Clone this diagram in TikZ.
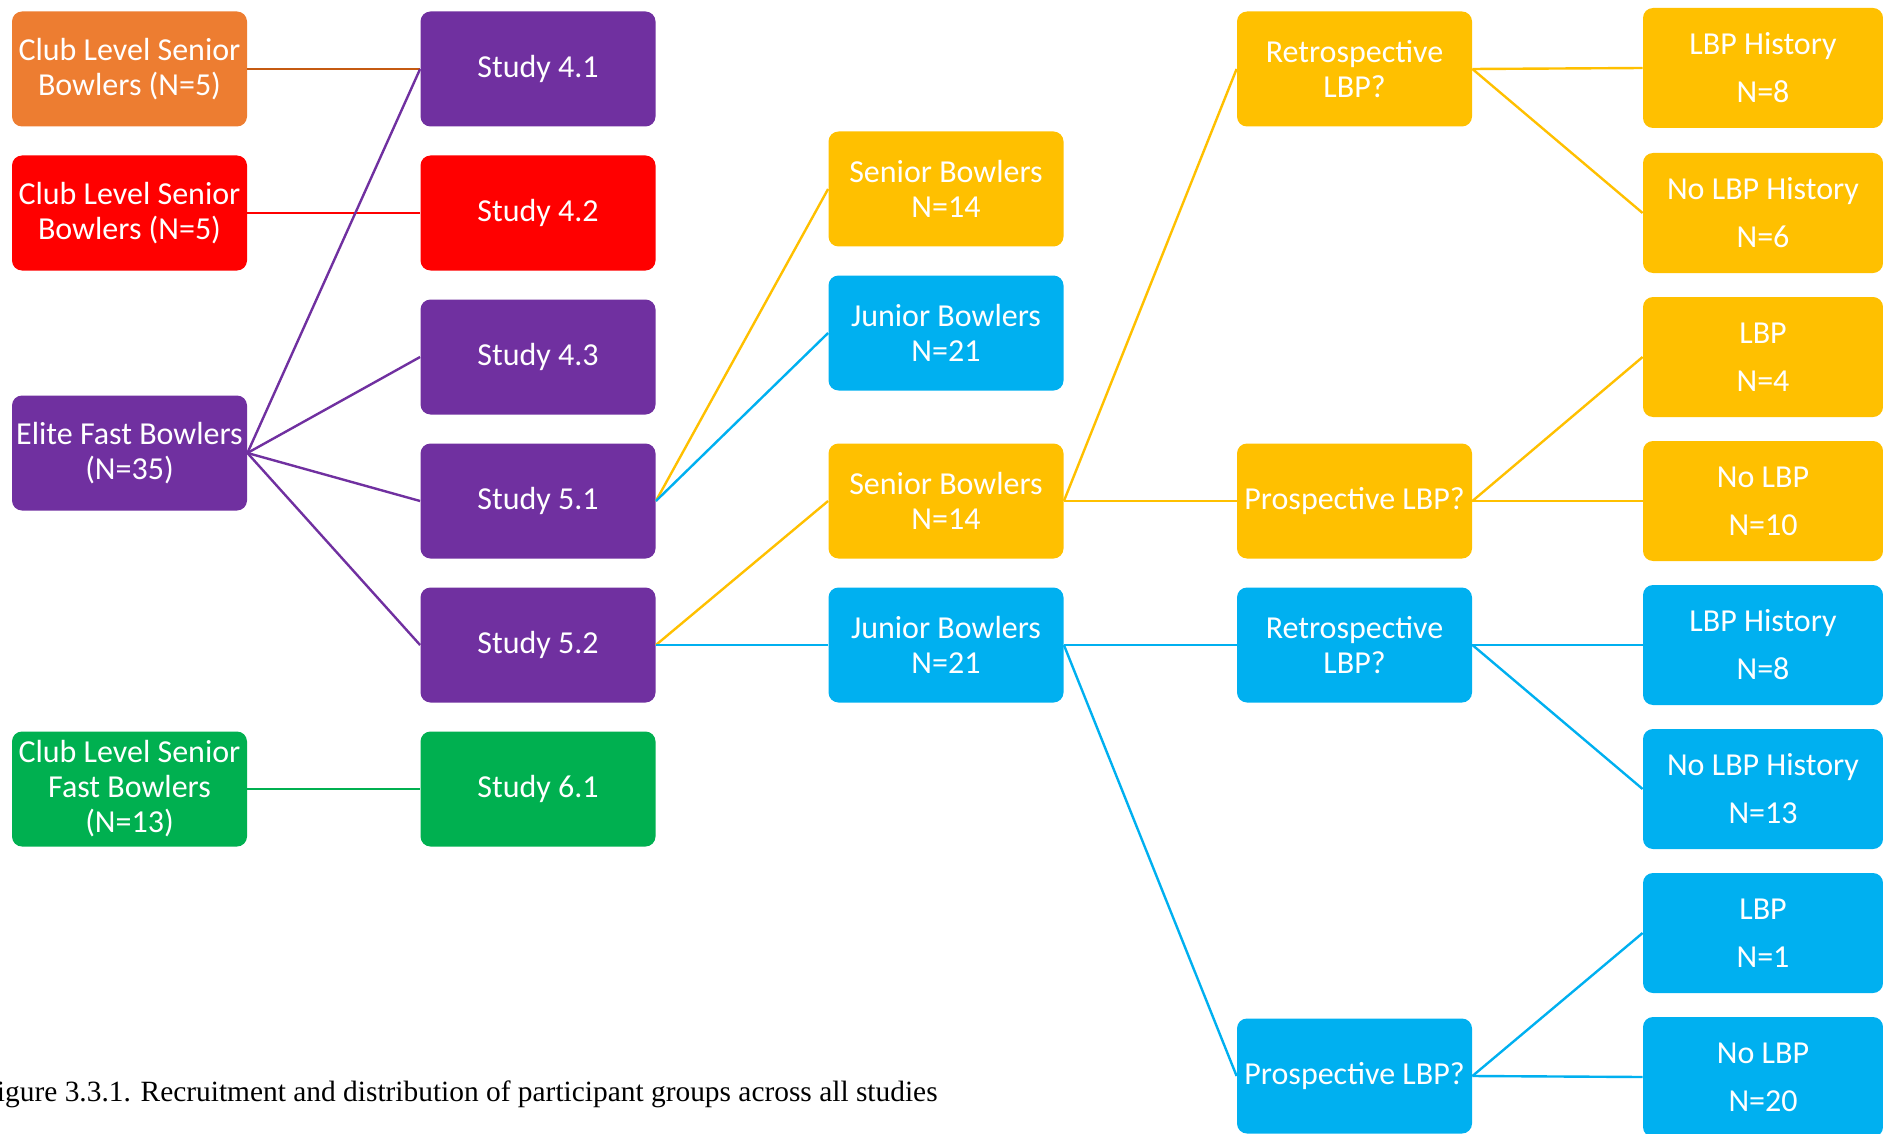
\documentclass[tikz,border=0pt]{standalone}
\usepackage{fontspec}
\setmainfont{Carlito}
\newfontfamily\capfont{Liberation Serif}
\definecolor{orng}{HTML}{ED7D31}
\definecolor{orngline}{HTML}{C55A11}
\definecolor{prpl}{HTML}{7030A0}
\definecolor{grn}{HTML}{00B050}
\definecolor{gold}{HTML}{FFC000}
\definecolor{sky}{HTML}{00B0F0}

\begin{document}
\begin{tikzpicture}[x=0.5pt,y=-0.5pt,
	box/.style={rounded corners=5pt,minimum width=117.5pt,minimum height=57.5pt,inner sep=0pt,
		text=white,align=center,font=\fontsize{16}{17.5}\selectfont},
	wide/.style={box,minimum width=120pt,minimum height=60pt,font=\fontsize{16}{24}\selectfont},
	link/.style={line width=1.2pt}]
		\useasboundingbox (0,0) rectangle (1883,1134);
		% first column: groups
		\node[box,fill=orng] (club1) at (129.5,69) {Club Level Senior\\Bowlers (N=5)};
		\node[box,fill=red] (club2) at (129.5,213) {Club Level Senior\\Bowlers (N=5)};
		\node[box,fill=prpl] (elite) at (129.5,453) {Elite Fast Bowlers\\(N=35)};
		\node[box,fill=grn] (club3) at (129.5,789) {Club Level Senior\\Fast Bowlers\\(N=13)};
		% second column: studies
		\node[box,fill=prpl] (s41) at (538,69) {Study 4.1};
		\node[box,fill=red] (s42) at (538,213) {Study 4.2};
		\node[box,fill=prpl] (s43) at (538,357) {Study 4.3};
		\node[box,fill=prpl] (s51) at (538,501) {Study 5.1};
		\node[box,fill=prpl] (s52) at (538,645) {Study 5.2};
		\node[box,fill=grn] (s61) at (538,789) {Study 6.1};
		% third column
		\node[box,fill=gold] (sen1) at (946,189) {Senior Bowlers\\N=14};
		\node[box,fill=sky] (jun1) at (946,333) {Junior Bowlers\\N=21};
		\node[box,fill=gold] (sen2) at (946,501) {Senior Bowlers\\N=14};
		\node[box,fill=sky] (jun2) at (946,645) {Junior Bowlers\\N=21};
		% fourth column
		\node[box,fill=gold] (retro1) at (1354.5,69) {Retrospective\\LBP?};
		\node[box,fill=gold] (prosp1) at (1354.5,501) {Prospective LBP?};
		\node[box,fill=sky] (retro2) at (1354.5,645) {Retrospective\\LBP?};
		\node[box,fill=sky] (prosp2) at (1354.5,1076) {Prospective LBP?};
		% fifth column
		\node[wide,fill=gold] (hist1) at (1763,68) {LBP History\\N=8};
		\node[wide,fill=gold] (nohist1) at (1763,213) {No LBP History\\N=6};
		\node[wide,fill=gold] (lbp1) at (1763,357) {LBP\\N=4};
		\node[wide,fill=gold] (nolbp1) at (1763,501) {No LBP\\N=10};
		\node[wide,fill=sky] (hist2) at (1763,645) {LBP History\\N=8};
		\node[wide,fill=sky] (nohist2) at (1763,789) {No LBP History\\N=13};
		\node[wide,fill=sky] (lbp2) at (1763,933) {LBP\\N=1};
		\node[wide,fill=sky] (nolbp2) at (1763,1077) {No LBP\\N=20};

		\draw[link,orngline] (club1.east) -- (s41.west);
		\draw[link,red] (club2.east) -- (s42.west);
		\draw[link,grn] (club3.east) -- (s61.west);
		\foreach \s in {s41,s43,s51,s52}
			\draw[link,prpl] (elite.east) -- (\s.west);
		\draw[link,gold] (s51.east) -- (sen1.west);
		\draw[link,sky] (s51.east) -- (jun1.west);
		\draw[link,gold] (s52.east) -- (sen2.west);
		\draw[link,sky] (s52.east) -- (jun2.west);
		\draw[link,gold] (sen2.east) -- (retro1.west);
		\draw[link,gold] (sen2.east) -- (prosp1.west);
		\draw[link,sky] (jun2.east) -- (retro2.west);
		\draw[link,sky] (jun2.east) -- (prosp2.west);
		\draw[link,gold] (retro1.east) -- (hist1.west);
		\draw[link,gold] (retro1.east) -- (nohist1.west);
		\draw[link,gold] (prosp1.east) -- (lbp1.west);
		\draw[link,gold] (prosp1.east) -- (nolbp1.west);
		\draw[link,sky] (retro2.east) -- (hist2.west);
		\draw[link,sky] (retro2.east) -- (nohist2.west);
		\draw[link,sky] (prosp2.east) -- (lbp2.west);
		\draw[link,sky] (prosp2.east) -- (nolbp2.west);

		\node[anchor=base east,inner sep=0pt,font=\capfont\fontsize{14.7}{17}\selectfont] (caption) at (938,1101)
			{Figure 3.3.1. Recruitment and distribution of participant groups across all studies};
	\end{tikzpicture}
\end{document}
